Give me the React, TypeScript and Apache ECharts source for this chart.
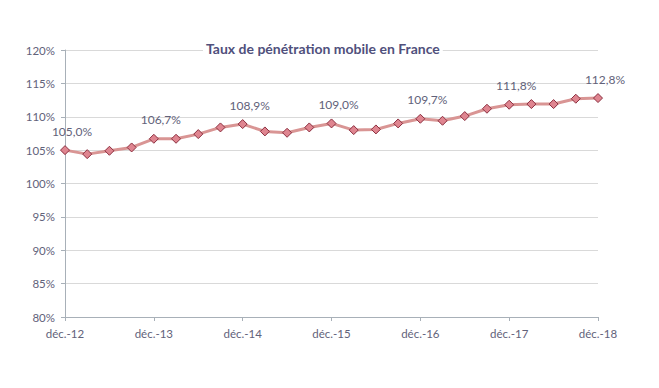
import React, { useEffect, useRef } from "react";
import * as echarts from "echarts";

const categories = [
  "déc.-12", "mars-13", "juin-13", "sept.-13",
  "déc.-13", "mars-14", "juin-14", "sept.-14",
  "déc.-14", "mars-15", "juin-15", "sept.-15",
  "déc.-15", "mars-16", "juin-16", "sept.-16",
  "déc.-16", "mars-17", "juin-17", "sept.-17",
  "déc.-17", "mars-18", "juin-18", "sept.-18",
  "déc.-18",
];

const values = [
  105.0, 104.4, 104.9, 105.4,
  106.7, 106.7, 107.4, 108.4,
  108.9, 107.8, 107.6, 108.4,
  109.0, 108.0, 108.1, 109.0,
  109.7, 109.4, 110.1, 111.2,
  111.8, 111.9, 111.9, 112.7,
  112.8,
];

const labelledIndices = [0, 4, 8, 12, 16, 20, 24];

const yMin = 80;
const yMax = 120;
const yStep = 5;

const textColor = "#62627a";

export default function App() {
  const ref = useRef<HTMLDivElement>(null);

  useEffect(() => {
    if (!ref.current) return;
    const chart = echarts.init(ref.current, null, { renderer: "svg" });
    chart.setOption({
      animation: false,
      backgroundColor: "#ffffff",
      title: {
        text: "Taux de pénétration mobile en France",
        left: 203,
        top: 40,
        padding: [1, 3],
        backgroundColor: "#ffffff",
        textStyle: {
          fontFamily: "Lato",
          fontSize: 14,
          fontWeight: "bold",
          color: "#50507c",
        },
      },
      grid: { left: 65, right: 61, top: 50, bottom: 71, containLabel: false },
      xAxis: {
        type: "category",
        data: categories,
        boundaryGap: false,
        axisLine: { lineStyle: { color: "#a8b0b8", width: 1 } },
        axisTick: { show: true, interval: 3, length: 4, lineStyle: { color: "#a8b0b8" } },
        axisLabel: {
          interval: 3,
          margin: 10,
          color: textColor,
          fontFamily: "Lato",
          fontSize: 11.5,
        },
        splitLine: { show: false },
      },
      yAxis: {
        type: "value",
        min: yMin,
        max: yMax,
        interval: yStep,
        axisLine: { show: true, lineStyle: { color: "#a8b0b8", width: 1 } },
        axisTick: { show: true, length: 4, lineStyle: { color: "#a8b0b8" } },
        axisLabel: {
          formatter: "{value}%",
          margin: 10,
          color: textColor,
          fontFamily: "Lato",
          fontSize: 11.5,
        },
        splitLine: { show: true, lineStyle: { color: "#d9d9d9", width: 1 } },
      },
      series: [
        {
          type: "line",
          data: values,
          symbol: "diamond",
          symbolSize: 9,
          lineStyle: { color: "#d99594", width: 3 },
          itemStyle: { color: "#df8590", borderColor: "#8c2f3f", borderWidth: 1 },
          label: {
            show: true,
            position: "top",
            offset: [7, -3],
            color: textColor,
            fontFamily: "Lato",
            fontSize: 12,
            formatter: (p: any) =>
              labelledIndices.includes(p.dataIndex)
                ? p.value.toFixed(1).replace(".", ",") + "%"
                : "",
          },
        },
      ],
    });
    return () => chart.dispose();
  }, []);

  return (
    <div
      ref={ref}
      style={{ position: "fixed", left: 0, top: 0, width: 659, height: 388 }}
    />
  );
}
